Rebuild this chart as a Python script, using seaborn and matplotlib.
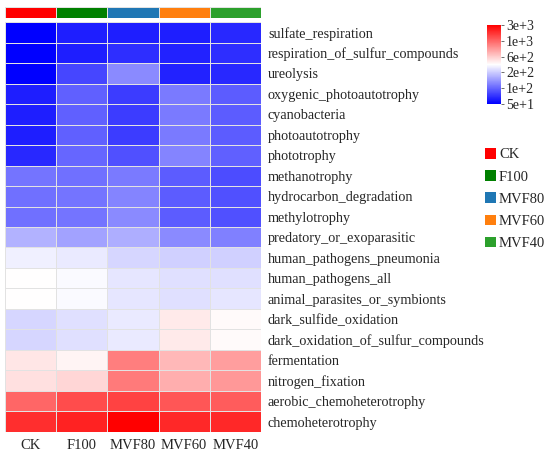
"""
Heatmap of predicted functional groups (FAPROTAX) across fertilisation treatments.
"""

import numpy as np
import pandas as pd
import matplotlib
matplotlib.use('Agg')
import matplotlib.pyplot as plt
import seaborn as sns
from matplotlib.colors import LinearSegmentedColormap, ListedColormap
from matplotlib.patches import Patch

# Treatments and their group colours
treatments = ['CK', 'F100', 'MVF80', 'MVF60', 'MVF40']
group_colors = ['#FF0000', '#008000', '#1F77B4', '#FF7F0E', '#2CA02C']

functions = [
    'sulfate_respiration', 'respiration_of_sulfur_compounds', 'ureolysis',
    'oxygenic_photoautotrophy', 'cyanobacteria', 'photoautotrophy', 'phototrophy',
    'methanotrophy', 'hydrocarbon_degradation', 'methylotrophy',
    'predatory_or_exoparasitic', 'human_pathogens_pneumonia', 'human_pathogens_all',
    'animal_parasites_or_symbionts', 'dark_sulfide_oxidation',
    'dark_oxidation_of_sulfur_compounds', 'fermentation', 'nitrogen_fixation',
    'aerobic_chemoheterotrophy', 'chemoheterotrophy',
]

# Position of each cell on the colour scale (0 = 5e+1 ... 1 = 3e+3), per treatment
ck    = [0.00, 0.00, 0.00, 0.06, 0.06, 0.06, 0.08, 0.23, 0.22, 0.22,
         0.35, 0.47, 0.50, 0.50, 0.42, 0.42, 0.55, 0.56, 0.80, 0.91]
f100  = [0.06, 0.06, 0.14, 0.19, 0.19, 0.19, 0.20, 0.22, 0.23, 0.23,
         0.32, 0.46, 0.49, 0.49, 0.44, 0.44, 0.52, 0.58, 0.85, 0.93]
mvf80 = [0.06, 0.09, 0.27, 0.12, 0.12, 0.12, 0.16, 0.24, 0.26, 0.27,
         0.34, 0.42, 0.45, 0.45, 0.46, 0.46, 0.75, 0.76, 0.87, 1.00]
mvf60 = [0.06, 0.07, 0.07, 0.24, 0.24, 0.24, 0.26, 0.18, 0.18, 0.18,
         0.27, 0.41, 0.44, 0.44, 0.54, 0.54, 0.64, 0.66, 0.83, 0.92]
mvf40 = [0.08, 0.09, 0.08, 0.18, 0.18, 0.18, 0.19, 0.15, 0.16, 0.16,
         0.25, 0.41, 0.44, 0.45, 0.51, 0.51, 0.69, 0.70, 0.82, 0.92]

cbar_ticks = [0.0, 0.2, 0.4, 0.6, 0.8, 1.0]
cbar_labels = ['5e+1', '1e+2', '2e+2', '6e+2', '1e+3', '3e+3']

sns.set_style("white")
plt.rcParams['font.family'] = ['Liberation Serif', 'DejaVu Serif']


def main():
    df = pd.DataFrame({'CK': ck, 'F100': f100, 'MVF80': mvf80,
                       'MVF60': mvf60, 'MVF40': mvf40}, index=functions)

    cmap = LinearSegmentedColormap.from_list('bwr_ph', ['#0000FF', '#FFFFFF', '#FF0000'])

    fig = plt.figure(figsize=(5.5, 4.54), dpi=100)
    ax = fig.add_axes([0.009, 0.0485, 0.4655, 0.903])
    ax_top = fig.add_axes([0.009, 0.9604, 0.4655, 0.0242])
    cax = fig.add_axes([0.8855, 0.771, 0.0255, 0.174])

    sns.heatmap(df, ax=ax, cmap=cmap, vmin=0, vmax=1, linewidths=0.6,
                linecolor='#E2E2E2', cbar_ax=cax)

    ax.yaxis.tick_right()
    ax.set_yticklabels(functions, rotation=0, fontsize=10.2)
    ax.set_xticklabels(treatments, rotation=0, fontsize=10.5)
    ax.tick_params(axis='both', length=0, pad=5)

    # Group annotation bar
    group_df = pd.DataFrame([list(range(len(treatments)))], columns=treatments)
    sns.heatmap(group_df, ax=ax_top, cmap=ListedColormap(group_colors), cbar=False,
                linewidths=0.6, linecolor='#E2E2E2')
    ax_top.set_xticks([])
    ax_top.set_yticks([])

    cbar = ax.collections[0].colorbar
    cbar.set_ticks(cbar_ticks)
    cbar.set_ticklabels(cbar_labels)
    cbar.outline.set_visible(False)
    cax.tick_params(length=2.5, width=0.6, labelsize=10, pad=1, color='#555555')

    handles = [Patch(facecolor=c, edgecolor='none', label=t)
               for t, c in zip(treatments, group_colors)]
    fig.legend(handles=handles, loc='upper left', bbox_to_anchor=(0.882, 0.674),
               frameon=False, fontsize=10.5, handlelength=0.75, handleheight=0.75,
               handletextpad=0.2, labelspacing=0.6, borderpad=0, borderaxespad=0)

    fig.savefig('out.png', dpi=100)
    plt.close(fig)


if __name__ == "__main__":
    main()
